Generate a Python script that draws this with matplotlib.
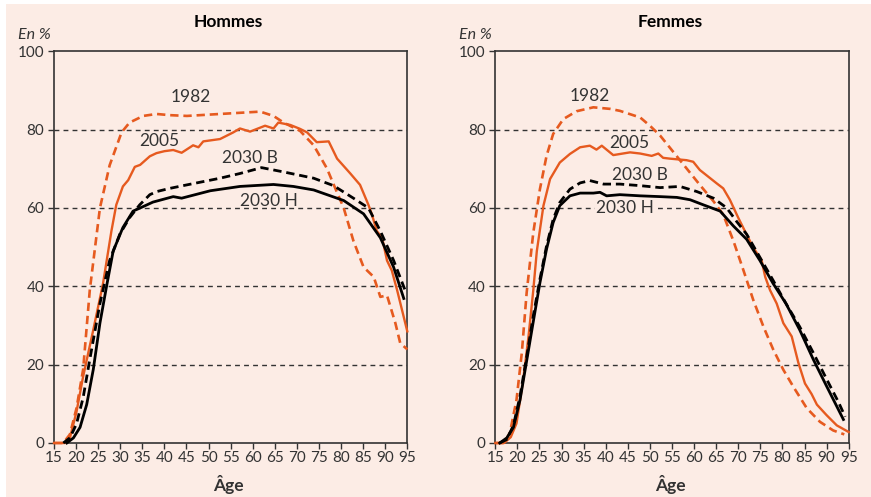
import matplotlib
matplotlib.use("Agg")
import matplotlib.pyplot as plt
from matplotlib.patches import Rectangle

# Hommes
h_age_1982 = [15, 17.1, 18.6, 20.1, 21.6, 23.1, 25.4, 27.6, 30.3, 32.1, 35.2, 38.2, 41.2, 45.1, 51.1, 55.6,
              61.7, 64.7, 67, 70.7, 73.8, 76.8, 78.7, 80.6, 82.8, 85.1, 87.4, 88.9, 90.4, 92.3, 93.4, 95]
h_1982 = [0, 0, 2.2, 8.9, 18.8, 39, 60, 70.9, 79.3, 81.8, 83.5, 84, 83.7, 83.5, 83.9, 84.2,
          84.6, 83.5, 81.8, 79.7, 76, 70.1, 65, 60, 51.6, 44.9, 42.4, 37.3, 37.7, 30.6, 25.5, 23.9]

h_age_2005 = [15, 17.5, 18.6, 20.1, 21.6, 23.9, 26.1, 28, 29.1, 30.6, 31.8, 33.3, 34.5, 36.7, 38.2, 40, 42,
              43.9, 46.5, 47.7, 48.8, 52.6, 55.6, 57.1, 59.4, 62.8, 64.7, 65.8, 68.5, 70.7, 72.3, 74.5,
              77.2, 79.1, 82.1, 84.3, 86.2, 87, 88.1, 89.3, 90.4, 91.5, 92.7, 95]
h_2005 = [0, 0, 1.3, 8, 17, 28.9, 40.7, 54.1, 60.8, 65.5, 67.1, 70.5, 71, 73.2, 74, 74.5, 74.8,
          74.1, 76, 75.5, 77, 77.6, 79.3, 80.3, 79.5, 81, 80.3, 81.8, 81.2, 80.2, 79.3, 76.8,
          77, 72.6, 68.8, 65.9, 60.8, 58.3, 54.1, 52.4, 46.6, 44, 39, 28.5]

h_age_2030b = [17.1, 18.6, 20.1, 21.6, 23.1, 25.4, 27.6, 29.9, 32.1, 34.4, 36.7, 38.3, 41.2, 45.1, 52.6,
               57.1, 62, 67, 73.8, 78.3, 82.8, 86.2, 88.9, 91.9, 94.5]
h_2030b = [0, 1.3, 4.9, 11.6, 21.3, 35.6, 46.6, 53.3, 57.5, 60.8, 63.4, 64.2, 65, 65.9, 67.6,
           68.8, 70.3, 69.2, 67.6, 65.7, 62.5, 60, 54.1, 46.6, 39]

h_age_2030h = [17.9, 19.4, 20.9, 22.4, 23.9, 25.4, 26.9, 28.4, 30.6, 32.9, 34.5, 37.4, 42, 43.9, 50.4,
               57.1, 64.7, 69.2, 73.8, 80.6, 85.1, 88.9, 91.9, 94.2]
h_2030h = [0, 1.3, 4, 9.8, 18.8, 30.6, 40, 49, 55, 59.2, 60, 61.5, 62.9, 62.5, 64.4,
           65.5, 66, 65.5, 64.6, 61.9, 58.5, 52.4, 44.9, 36.9]

# Femmes
f_age_1982 = [15, 17, 18.3, 19.8, 21, 22.1, 23.6, 25.1, 26.6, 28.1, 30.4, 33.4, 37.2, 41, 43.2, 47.8, 50,
              52.3, 55.3, 58.3, 61.3, 64.4, 66.6, 68.9, 71.2, 73.4, 75.7, 77.9, 80.2, 82.5, 85.5, 88.5,
              91.5, 94]
f_1982 = [0, 0, 2.6, 11, 23, 38.4, 53.7, 64.8, 73.3, 78.9, 82.7, 84.7, 85.7, 85.3, 84.8, 83.1, 81,
          78.5, 74.3, 70.1, 65.9, 61.7, 58.3, 51.6, 44, 36.5, 29.7, 23.9, 18.7, 14.3, 8.9, 5.4,
          3.2, 2.2]

f_age_2005 = [15, 17, 18.5, 19.8, 21.3, 22.5, 23.6, 24.4, 25.9, 27.4, 29.6, 31.9, 34.2, 36.4, 37.9, 39.1,
              41.7, 45.5, 47.8, 50.4, 51.9, 53, 54.5, 58.3, 59.8, 61.3, 63.2, 65.1, 66.6, 68.1, 70,
              71.5, 73.4, 75.3, 76.1, 77.2, 78.7, 80.2, 82.1, 83.6, 85.1, 86.6, 87.8, 90, 92.3, 95]
f_2005 = [0, 0, 1.5, 5, 16, 27, 39, 49, 60.6, 67.4, 71.6, 73.8, 75.5, 75.9, 74.9, 75.9,
          73.5, 74.2, 73.9, 73.3, 73.9, 72.8, 72.6, 72.2, 71.8, 69.7, 68, 66.3, 65, 62.1, 57.5,
          54.1, 49.9, 46.6, 42.4, 39, 35.6, 30.6, 27.2, 20.5, 15.2, 12.5, 9.8, 7.1, 4.5, 2.8]

f_age_2030b = [16, 17.6, 19.1, 20.6, 22.1, 23.6, 25.1, 26.6, 28.1, 29.6, 31.9, 34.2, 36.4, 39.5, 43.2,
               47.8, 52.3, 56.8, 60.6, 64.4, 67.4, 69.6, 71.9, 74.9, 77.9, 80.8, 83.9, 87, 90, 92.7, 94.2]
f_2030b = [0, 0.9, 4.5, 12, 22, 32.5, 41.8, 50.3, 57.1, 61.4, 64.8, 66.4, 67, 66.1, 66.1,
           65.7, 65.2, 65.5, 64.2, 62.5, 60, 56.6, 53.3, 47.4, 41.5, 35.6, 29.7, 23, 16.3, 10.4, 6.7]

f_age_2030h = [16, 17.6, 19.1, 20.6, 22.1, 23.6, 25.1, 26.6, 28.1, 29.6, 31.9, 34.2, 37.2, 38.7, 40.2,
               43.2, 47.8, 52.3, 56.1, 59.1, 62.1, 65.9, 68.9, 71.9, 74.9, 77.9, 80.8, 83.9, 87, 90, 93.8]
f_2030h = [0, 1.3, 4, 11, 21, 31, 40.9, 49.5, 56.3, 60.6, 63.1, 63.8, 63.8, 64, 63.1,
           63.4, 63.1, 62.9, 62.7, 62.1, 60.8, 59.2, 55.4, 52, 46.6, 40.7, 35.6, 28.9, 21.3, 14.5, 6]

x_ticks = list(range(15, 100, 5))
y_ticks = [0, 20, 40, 60, 80, 100]

# label positions (age, value) for each panel
h_labels = {"1982": (46.0, 88.4), "2005": (38.9, 77.0), "2030 B": (59.4, 72.8), "2030 H": (63.6, 61.9)}
f_labels = {"1982": (36.4, 88.6), "2005": (45.3, 76.6), "2030 B": (47.7, 68.4), "2030 H": (44.3, 59.9)}

ORANGE = "#E65A1F"
PINK = "#FCECE5"
GREY = "#333333"

plt.rcParams["font.family"] = ["Lato", "DejaVu Sans"]
plt.rcParams["lines.scale_dashes"] = False

fig = plt.figure(figsize=(8.71, 4.97), dpi=100, facecolor="white")
fig.patches.append(Rectangle((6 / 871, 0), 1 - 6 / 871, 1 - 4 / 497, transform=fig.transFigure,
                             facecolor=PINK, edgecolor="none", zorder=-1))

ax1 = fig.add_axes([54 / 871, 1 - 443 / 497, 353.3 / 871, 391.7 / 497])
ax2 = fig.add_axes([495.3 / 871, 1 - 443 / 497, 353.4 / 871, 391.7 / 497])

panels = [
    (ax1, "Hommes", (h_age_1982, h_1982), (h_age_2005, h_2005), (h_age_2030b, h_2030b),
     (h_age_2030h, h_2030h), h_labels),
    (ax2, "Femmes", (f_age_1982, f_1982), (f_age_2005, f_2005), (f_age_2030b, f_2030b),
     (f_age_2030h, f_2030h), f_labels),
]

for ax, title, s1982, s2005, s2030b, s2030h, labels in panels:
    ax.set_facecolor(PINK)
    ax.set_xlim(15, 95)
    ax.set_ylim(0, 100)
    for yv in [20, 40, 60, 80]:
        ax.axhline(yv, color=GREY, lw=1.0, dashes=(3.5, 3), zorder=1)

    ax.plot(*s1982, color=ORANGE, lw=1.9, dashes=(6, 3.5), zorder=3, clip_on=False)
    ax.plot(*s2005, color=ORANGE, lw=1.7, zorder=3, clip_on=False)
    ax.plot(*s2030b, color="black", lw=2.0, dashes=(6, 3.5), zorder=4, clip_on=False)
    ax.plot(*s2030h, color="black", lw=2.0, zorder=4, clip_on=False)

    for txt, (xa, ya) in labels.items():
        kw = {}
        if txt == "2030 H" and title == "Femmes":
            kw["bbox"] = dict(facecolor=PINK, edgecolor="none", pad=0.5)
        ax.text(xa, ya, txt, ha="center", va="center", fontsize=12.5, color=GREY, zorder=5, **kw)

    ax.set_xticks(x_ticks)
    ax.set_yticks(y_ticks)
    ax.tick_params(axis="both", direction="out", length=4, width=1, color=GREY,
                   labelcolor=GREY, labelsize=11)
    ax.tick_params(axis="x", pad=2)
    ax.tick_params(axis="y", pad=3)
    for sp in ax.spines.values():
        sp.set_color(GREY)
        sp.set_linewidth(1.2)

    x0, y0, w, h = ax.get_position().bounds
    cx = x0 + w / 2
    fig.text(cx - 2 / 871, 1 - 22 / 497, title, ha="center", va="center", fontsize=12.5,
             fontweight="bold", color="black")
    fig.text(cx - 2 / 871, 1 - 484 / 497, "Âge", ha="center", va="center", fontsize=12.5,
             fontweight="bold", color=GREY)
    fig.text(x0 - 36 / 871, 1 - 35 / 497, "En %", ha="left", va="center", fontsize=11.5,
             style="italic", color=GREY)

fig.savefig("out.png", dpi=100, facecolor=fig.get_facecolor())
